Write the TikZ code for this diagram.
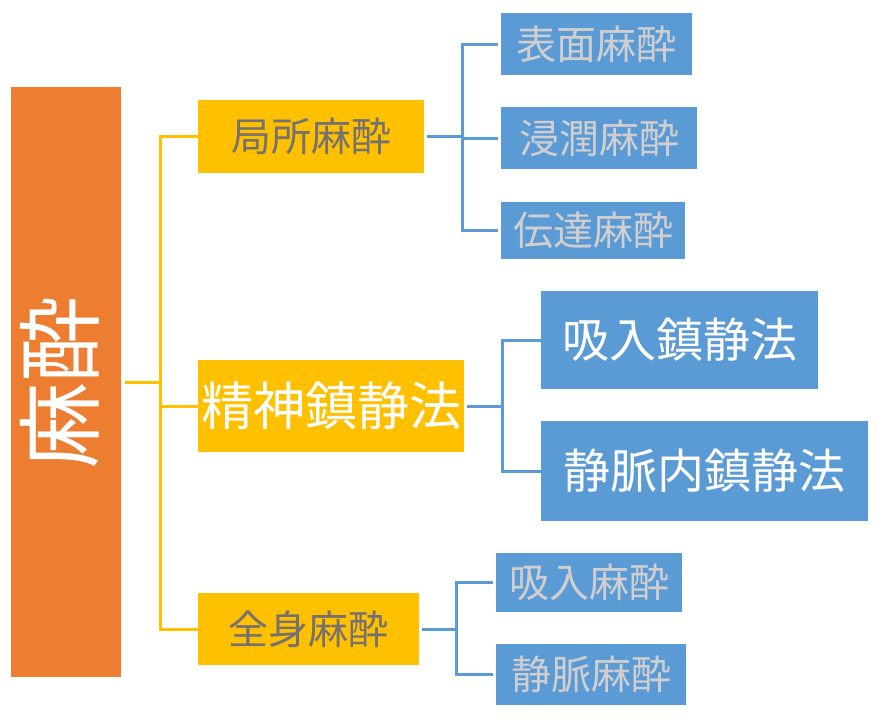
\documentclass[tikz,border=0pt]{standalone}
\usepackage{fontspec}
\usetikzlibrary{positioning}
\newfontfamily\jpfont{Noto Sans CJK JP}
\definecolor{rootorange}{HTML}{ED7D31}
\definecolor{midyellow}{HTML}{FFC000}
\definecolor{leafblue}{HTML}{5B9BD5}
\definecolor{darkgray}{HTML}{767171}
\definecolor{lightgray}{HTML}{D0CECE}

\begin{document}
\begin{tikzpicture}[
  x=1pt,y=-1pt,
  ylink/.style={line width=3pt,draw=midyellow},
  blink/.style={line width=3pt,draw=leafblue},
  rootbox/.style={fill=rootorange,inner sep=0pt},
  catbox/.style={fill=midyellow,inner sep=0pt,text=darkgray,font=\jpfont\fontsize{40}{42}\selectfont},
  leafbox/.style={fill=leafblue,inner sep=0pt,text=lightgray,font=\jpfont\fontsize{40}{42}\selectfont},
  bigcat/.style={catbox,text=white,font=\jpfont\fontsize{52}{54}\selectfont},
  bigleaf/.style={leafbox,text=white,font=\jpfont\fontsize{47}{49}\selectfont}
]
\useasboundingbox (0,0) rectangle (883,724);
\node[rootbox,minimum width=110pt,minimum height=590pt] (root) at (66,382) {};
\node[rotate=90,text=white,font=\jpfont\fontsize{86}{88}\selectfont,inner sep=0pt] (rootlabel) at (60,382) {麻酔};
\node[catbox,minimum width=226pt,minimum height=73pt] (local) at (311,136) {局所麻酔};
\node[bigcat,minimum width=266pt,minimum height=92pt] (sedation) at (331,406) {精神鎮静法};
\node[catbox,minimum width=221pt,minimum height=72pt] (general) at (308.5,629) {全身麻酔};
\node[leafbox,minimum width=191pt,minimum height=62pt] (surface) at (596.5,44) {表面麻酔};
\node[leafbox,minimum width=196pt,minimum height=62pt] (infiltr) at (599,138) {浸潤麻酔};
\node[leafbox,minimum width=184pt,minimum height=57pt] (conduct) at (593,230.5) {伝達麻酔};
\node[bigleaf,minimum width=277pt,minimum height=98pt] (inhsed) at (679.5,340) {吸入鎮静法};
\node[bigleaf,minimum width=327pt,minimum height=100pt] (ivsed) at (704.5,471) {静脈内鎮静法};
\node[leafbox,minimum width=186pt,minimum height=59pt] (inhgen) at (589,582.5) {吸入麻酔};
\node[leafbox,minimum width=190pt,minimum height=61pt] (ivgen) at (591,674.5) {静脈麻酔};
\coordinate (rootfork) at (160,382);
\coordinate (localfork) at (462,136);
\coordinate (sedfork) at (502,406);
\coordinate (genfork) at (456,629);
\draw[ylink,shorten <=4pt] (root.east) -- (rootfork);
\draw[ylink] (rootfork) |- (local.west);
\draw[ylink] (rootfork) |- (sedation.west);
\draw[ylink] (rootfork) |- (general.west);
\draw[blink,shorten <=3pt] (local.east) -- (localfork);
\draw[blink,shorten >=3pt] (localfork) |- (surface.west);
\draw[blink,shorten >=3pt] (localfork) |- (infiltr.west);
\draw[blink,shorten >=3pt] (localfork) |- (conduct.west);
\draw[blink,shorten <=3pt] (sedation.east) -- (sedfork);
\draw[blink] (sedfork) |- (inhsed.west);
\draw[blink] (sedfork) |- (ivsed.west);
\draw[blink,shorten <=3pt] (general.east) -- (genfork);
\draw[blink,shorten >=3pt] (genfork) |- (inhgen.west);
\draw[blink,shorten >=3pt] (genfork) |- (ivgen.west);
\end{tikzpicture}
\end{document}
